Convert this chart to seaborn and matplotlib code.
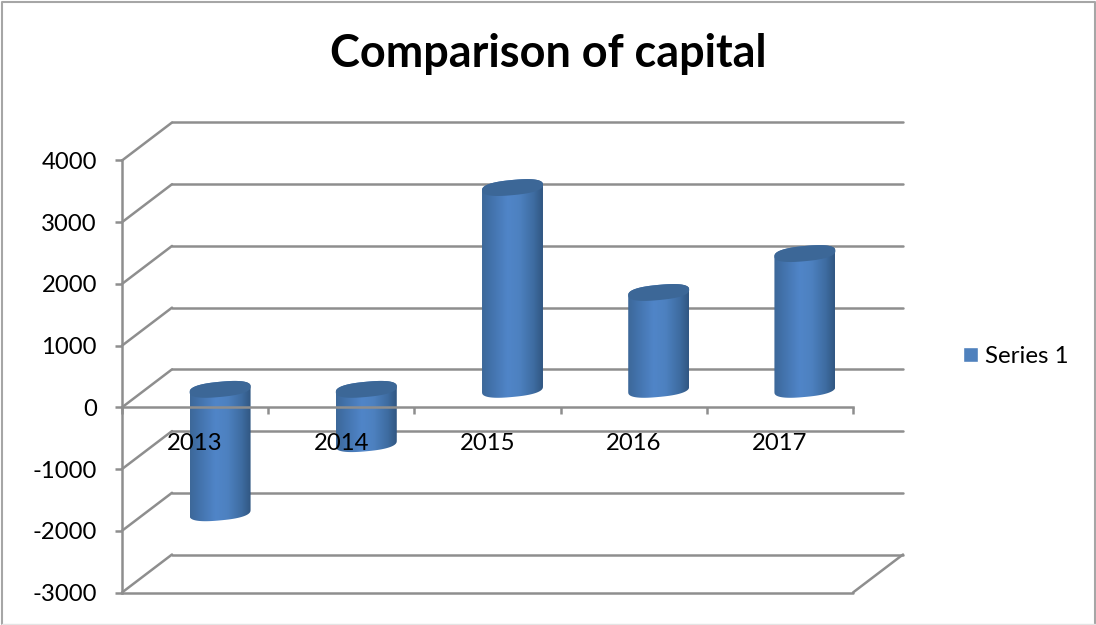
import numpy as np
import matplotlib
matplotlib.use("Agg")
import matplotlib.pyplot as plt
import seaborn as sns
from matplotlib.colors import LinearSegmentedColormap
from matplotlib.lines import Line2D
from matplotlib.patches import Patch, PathPatch
from matplotlib.path import Path
from matplotlib.transforms import Affine2D, IdentityTransform

years = ["2013", "2014", "2015", "2016", "2017"]
capital = [-2000, -880, 3270, 1570, 2200]
series_name = "Series 1"
chart_title = "Comparison of capital"
value_ticks = [4000, 3000, 2000, 1000, 0, -1000, -2000, -3000]
value_tick_labels = ["4000", "3000", "2000", "1000", "0", "-1000", "-2000", "-3000"]

GRID = "#8e8e8e"
FRAME = "#a6a6a6"
BLUE = "#4f81bd"
CAP = "#3c6797"
DEPTH_X, DEPTH_Y = 50, 38
LINE = 1.8
W, H = 1096, 625

sns.set_theme(style="white")
plt.rcParams["font.family"] = ["Lato", "DejaVu Sans"]
plt.rcParams["axes.unicode_minus"] = False

fig = plt.figure(figsize=(W / 100, H / 100), dpi=100, facecolor="white")
ax = fig.add_axes([122 / W, (H - 592.5) / H, 731 / W, 432 / H], facecolor="none")

sns.barplot(x=years, y=capital, color=BLUE, width=0.417, saturation=1, ax=ax, zorder=1)
ax.set_xlim(-0.5, 4.5)
ax.set_ylim(-3000, 4000)
ax.set_autoscale_on(False)

# Back wall and side wall of the 3D box
wall = Affine2D().translate(DEPTH_X, DEPTH_Y)
back = ax.transData + wall
for v in value_ticks:
    ax.plot([-0.5, 4.5], [v, v], color=GRID, lw=LINE, transform=back,
            clip_on=False, zorder=0.5, solid_capstyle="round")
    x0, y0 = ax.transData.transform((-0.5, v))
    ax.add_artist(Line2D([x0, x0 + DEPTH_X], [y0, y0 + DEPTH_Y], color=GRID, lw=LINE,
                         transform=IdentityTransform(), clip_on=False, zorder=0.5))

# Floor edges
ax.axhline(-3000, color=GRID, lw=LINE, clip_on=False, zorder=0.5)
x1, y1 = ax.transData.transform((4.5, -3000))
ax.add_artist(Line2D([x1, x1 + DEPTH_X], [y1, y1 + DEPTH_Y], color=GRID, lw=LINE,
                     transform=IdentityTransform(), clip_on=False, zorder=0.5))

# Cylinders stand halfway into the box depth
mid = ax.transData + Affine2D().translate(DEPTH_X / 2, DEPTH_Y / 2 - 1)
shade = LinearSegmentedColormap.from_list(
    "cylinder",
    [(0.0, "#3d6899"), (0.12, "#4170a8"), (0.42, "#5085c8"), (0.62, "#4d81c0"),
     (0.85, "#3e6ca1"), (1.0, "#315782")],
)
gradient = np.linspace(0, 1, 128).reshape(1, -1)
MINOR, TILT = 7.6, 2.8
ROUNDING = 0.8


def rim(cx, cy, half, t):
    c, s = np.cos(t), np.sin(t)
    c = np.sign(c) * np.abs(c) ** ROUNDING
    s = np.sign(s) * np.abs(s) ** ROUNDING
    return np.column_stack([cx + half * c, cy + MINOR * s + TILT * c])


for bar in list(ax.patches):
    left, width = bar.get_x(), bar.get_width()
    base, top = sorted((bar.get_y(), bar.get_y() + bar.get_height()))
    (xa, ya), (xb, yb) = mid.transform([(left, base), (left + width, top)])
    cx, half = (xa + xb) / 2, (xb - xa) / 2

    lower = rim(cx, ya, half, np.linspace(np.pi, 2 * np.pi, 40))
    upper = rim(cx, yb, half, np.linspace(0, np.pi, 40))
    body = Path(np.vstack([lower, upper, lower[:1]]))

    bar.set_visible(False)
    img = ax.imshow(gradient, cmap=shade, aspect="auto", interpolation="bilinear",
                    extent=(left, left + width, base - 300, top + 300),
                    transform=mid, zorder=1.2)
    img.set_clip_path(body, IdentityTransform())

    cap = rim(cx, yb, half, np.linspace(0, 2 * np.pi, 120))
    ax.add_patch(PathPatch(Path(cap), facecolor=CAP, edgecolor="none",
                           transform=IdentityTransform(), zorder=1.3))

ax.set_xlim(-0.5, 4.5)
ax.set_ylim(-3000, 4000)

# Axis at zero with ticks on the category boundaries, labels between them
ax.set_axisbelow(False)
for name in ("top", "right"):
    ax.spines[name].set_visible(False)
ax.spines["left"].set_color(GRID)
ax.spines["left"].set_linewidth(LINE)
ax.spines["bottom"].set_color(GRID)
ax.spines["bottom"].set_linewidth(LINE)
ax.spines["bottom"].set_position(("data", 0))
ax.set_xticks(np.arange(-0.5, 5, 1))
ax.set_xticklabels([])
ax.set_xticks(np.arange(5), labels=years, minor=True)
ax.tick_params(axis="x", which="major", direction="out", length=5, width=LINE, color=GRID, bottom=True)
ax.tick_params(axis="x", which="minor", length=0, pad=18.5, labelsize=17.2, labelcolor="black", bottom=True)
ax.set_yticks(value_ticks, labels=value_tick_labels)
ax.tick_params(axis="y", direction="out", length=5, width=LINE, color=GRID, left=True,
               pad=13, labelsize=17.2, labelcolor="black")
ax.set_xlabel("")
ax.set_ylabel("")

fig.text(548 / W, 1 - 54 / H, chart_title, fontsize=32.4, fontweight="bold",
         color="black", ha="center", va="center")

ax.legend(handles=[Patch(facecolor=BLUE, label=series_name)], loc="center left",
          bbox_to_anchor=(956 / W, 1 - 356.5 / H), bbox_transform=fig.transFigure,
          frameon=False, fontsize=17.4, handlelength=0.62, handleheight=0.62,
          handletextpad=0.3, borderpad=0, borderaxespad=0.3, labelcolor="black")

# Chart area border: top, left and right are solid, the bottom edge is faint
border = IdentityTransform()
px_top, px_bottom, px_left, px_right = H - 2, 1, 1.5, W - 1
fig.add_artist(Line2D([px_left, px_left, px_right, px_right],
                      [px_bottom, px_top, px_top, px_bottom],
                      color=FRAME, lw=1.5, transform=border))
fig.add_artist(Line2D([px_left, px_right], [px_bottom, px_bottom],
                      color="#e4e4e4", lw=1, transform=border))

fig.savefig("out.png", dpi=100, facecolor="white")
